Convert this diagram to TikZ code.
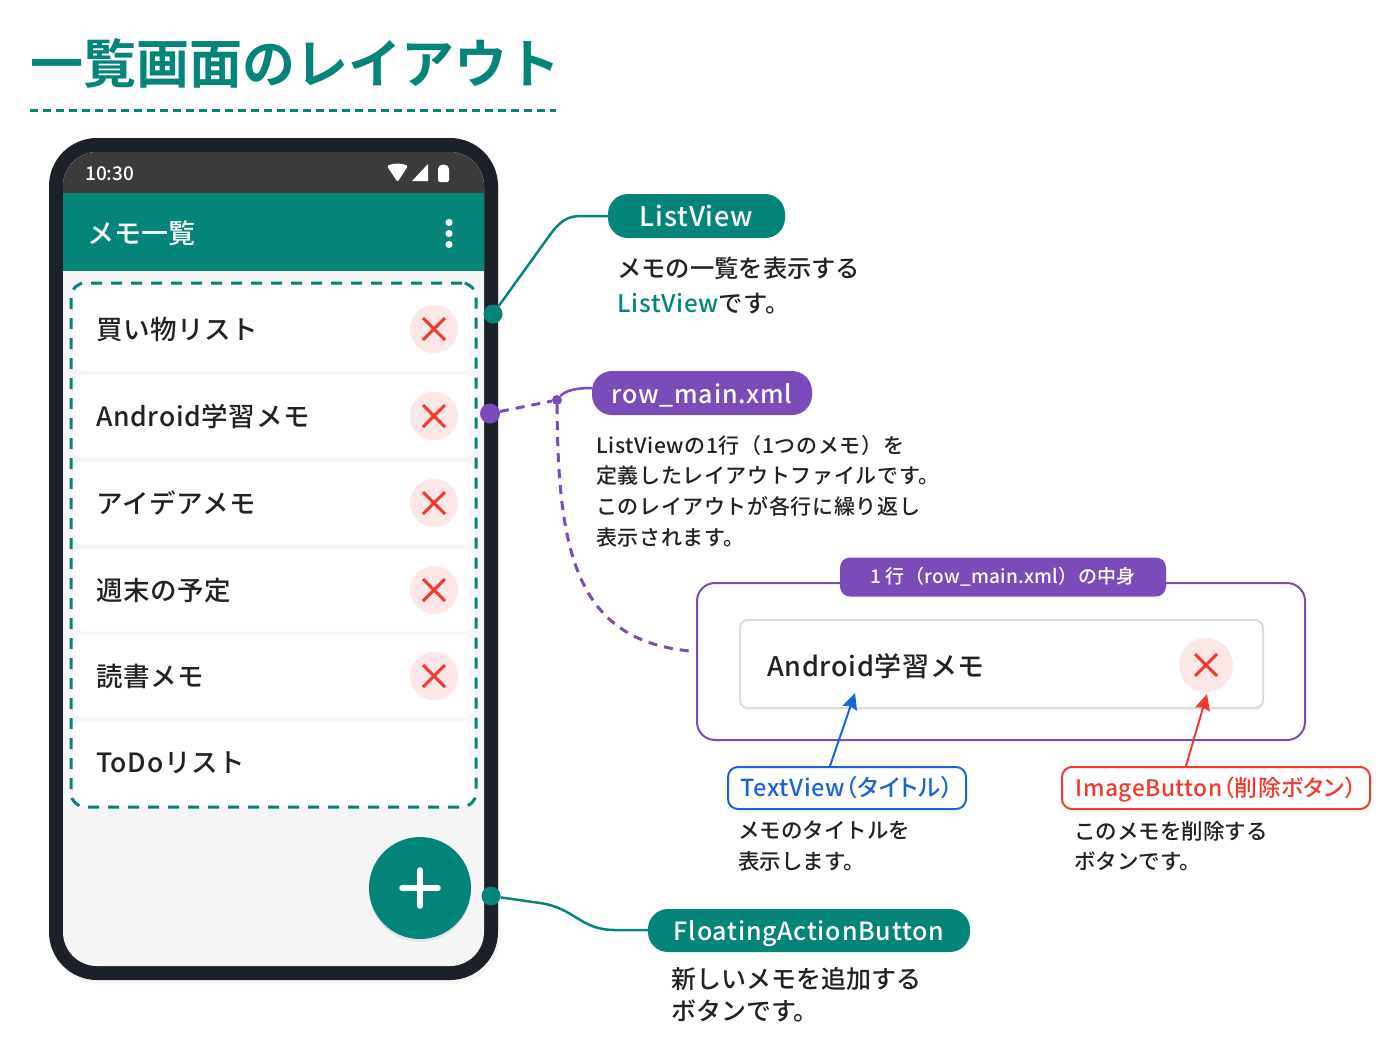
\documentclass[tikz,border=0pt]{standalone}
\usepackage{fontspec}
\setmainfont{Noto Sans CJK JP Medium}[BoldFont={Noto Sans CJK JP Bold}]
\usetikzlibrary{calc,shapes,arrows.meta,positioning,shadows}
\definecolor{tealc}{HTML}{05847A}
\definecolor{purplec}{HTML}{7A4BB9}
\definecolor{bluec}{HTML}{1B64D8}
\definecolor{redc}{HTML}{F2392B}
\definecolor{darkc}{HTML}{1B2029}
\definecolor{statusc}{HTML}{3B3B3B}
\definecolor{listc}{HTML}{F5F5F5}
\definecolor{pinkc}{HTML}{FCE6E6}
\definecolor{inkc}{HTML}{222222}
\newcommand{\fs}[1]{\fontsize{#1}{#1}\selectfont}

\begin{document}
\begin{tikzpicture}[
  x=1pt, y=-1pt,
  pill/.style={rectangle, rounded corners=20, fill=#1, text=white, inner sep=0pt, minimum height=44, text height=20, text depth=0, font=\fs{25}\addfontfeature{LetterSpace=3}},
  descr/.style={anchor=north west, align=left, inner sep=0pt, text=inkc},
  rowcard/.style={rectangle, rounded corners=10, fill=white, minimum width=402, inner sep=0pt},
  rowtext/.style={anchor=west, inner sep=0pt, text=inkc, font=\fs{26.5}\addfontfeature{LetterSpace=2.5}},
  del/.style={circle, fill=pinkc, minimum size=#1, inner sep=0pt, path picture={
    \draw[redc, line width=3] ($(path picture bounding box.center)+(-11,-11)$) -- ($(path picture bounding box.center)+(11,11)$);
    \draw[redc, line width=3] ($(path picture bounding box.center)+(-11,11)$) -- ($(path picture bounding box.center)+(11,-11)$);}},
  anchordot/.style={circle, fill=#1, minimum size=19, inner sep=0pt},
  tag/.style={rectangle, rounded corners=10, draw=#1, line width=2, fill=white, text=#1, minimum height=42, inner sep=0pt, text height=17, text depth=0},
  arrow/.style={-{Stealth[length=16pt,width=15pt,inset=2pt]}, line width=2}
]
  \useasboundingbox (0,0) rectangle (1400,1050);

  % title
  \node[anchor=west, inner sep=0pt, text=tealc, font=\fs{53}\bfseries] (title) at (30,63.5) {一覧画面のレイアウト};
  \coordinate (ruleL) at (30,110);
  \coordinate (ruleR) at (556,110);
  \draw[tealc, line width=3, dash pattern=on 8pt off 5pt] (ruleL) -- (ruleR);

  % phone
  \node[rectangle, rounded corners=48, fill=darkc, minimum width=449, minimum height=842, drop shadow={shadow xshift=2pt, shadow yshift=-4pt, opacity=.08}] (phone) at (273.5,559) {};
  \node[rectangle, rounded corners=34, fill=listc, minimum width=421, minimum height=814] (screen) at (273.5,559) {};
  \begin{scope}
    \clip[rounded corners=34] (63,152) rectangle (484,966);
    \node[rectangle, fill=statusc, minimum width=421, minimum height=42, inner sep=0pt] (status) at (273.5,173) {};
  \end{scope}
  \node[rectangle, fill=tealc, minimum width=421, minimum height=78, inner sep=0pt] (appbar) at (273.5,232) {};

  \node[anchor=west, inner sep=0pt, text=white, font=\fs{19}] (clock) at (85,173.5) {10:30};
  \fill[white, rounded corners=1.5] (387,166) .. controls (393,163) and (402,163) .. (408,166) -- (397.5,182) -- cycle;
  \fill[white] (412,181) -- (428,164) -- (428,181) -- cycle;
  \fill[white, rounded corners=2] (438,167) -- (441,164.5) -- (446,164.5) -- (449,167) -- (449,182) -- (438,182) -- cycle;

  \node[anchor=west, inner sep=0pt, text=white, font=\fs{27}] (apptitle) at (87,233) {メモ一覧};
  \fill[white] (449,222.5) circle (3.6);
  \fill[white] (449,233.5) circle (3.6);
  \fill[white] (449,244.5) circle (3.6);

  % list rows
  \node[rowcard, minimum height=86] (row1) at (273.5,328) {};
  \node[rowcard, minimum height=83] (row2) at (273.5,416) {};
  \node[rowcard, minimum height=83] (row3) at (273.5,503) {};
  \node[rowcard, minimum height=83] (row4) at (273.5,590) {};
  \node[rowcard, minimum height=83] (row5) at (273.5,676) {};
  \node[rowcard, minimum height=85] (row6) at (273.5,763) {};

  \node[rowtext] (text1) at (96,329) {買い物リスト};
  \node[rowtext] (text2) at (96,416) {Android学習メモ};
  \node[rowtext] (text3) at (96,503) {アイデアメモ};
  \node[rowtext] (text4) at (96,590) {週末の予定};
  \node[rowtext] (text5) at (96,676) {読書メモ};
  \node[rowtext] (text6) at (96,763) {ToDoリスト};

  \node[del=48] (del1) at (434,329) {};
  \node[del=48] (del2) at (434,416) {};
  \node[del=48] (del3) at (434,503) {};
  \node[del=48] (del4) at (434,590) {};
  \node[del=48] (del5) at (434,676) {};

  \node[rectangle, rounded corners=14, draw=tealc, line width=3, dash pattern=on 11pt off 9pt, minimum width=405, minimum height=524] (listbox) at (273.5,545) {};

  % fab
  \node[circle, fill=tealc, minimum size=102, inner sep=0pt, drop shadow={shadow xshift=0pt, shadow yshift=-3pt, opacity=.12}, path picture={
    \draw[white, line width=5.5, line cap=round] ($(path picture bounding box.center)+(-18,0)$) -- ($(path picture bounding box.center)+(18,0)$);
    \draw[white, line width=5.5, line cap=round] ($(path picture bounding box.center)+(0,-18)$) -- ($(path picture bounding box.center)+(0,18)$);}] (fab) at (420,888) {};

  % ListView callout
  \node[pill=tealc, minimum width=177, text height=21, font=\fs{27}\addfontfeature{LetterSpace=3}] (listpill) at (696.5,216) {ListView};
  \node[anchordot=tealc] (listdot) at (493,314) {};
  \draw[tealc, line width=2.5] (listdot) -- (552,232) .. controls (562,220) and (568,216) .. (582,216) -- (listpill);
  \node[descr, font=\fontsize{24.3}{35}\selectfont] (listdesc) at (617,257) {メモの一覧を表示する\\{\color{tealc}\addfontfeature{LetterSpace=3}ListView}です。};

  % row_main callout
  \node[pill=purplec, minimum width=220] (rowpill) at (702,393) {row\_main.xml};
  \node[anchordot=purplec, minimum size=20] (rowdot) at (490,413.5) {};
  \node[circle, fill=purplec, minimum size=10, inner sep=0pt] (rowknot) at (557,400) {};
  \coordinate (rowend) at (690,651);
  \draw[purplec, line width=3, dash pattern=on 9pt off 7pt] (rowdot) -- (rowknot);
  \draw[purplec, line width=2.5] (rowknot) .. controls (564,392) and (572,388) .. (592,388);
  \draw[purplec, line width=3, dash pattern=on 9pt off 7pt] (rowknot) .. controls (558,550) and (575,640) .. (rowend);
  \node[descr, font=\fontsize{21}{30.7}\selectfont\addfontfeature{LetterSpace=3}] (rowdesc) at (596,435) {ListViewの1行（1つのメモ）を\\定義したレイアウトファイルです。\\このレイアウトが各行に繰り返し\\表示されます。};

  % row detail panel
  \node[rectangle, rounded corners=18, draw=purplec, line width=2, minimum width=608, minimum height=157] (panel) at (1001,661.5) {};
  \node[rectangle, rounded corners=10, fill=purplec, text=white, minimum width=326, minimum height=39, inner sep=0pt, font=\fs{19}\addfontfeature{LetterSpace=1.5}] (paneltab) at (1003,577) {1 行（row\_main.xml）の中身};
  \node[rectangle, rounded corners=8, draw=black!14, line width=2, fill=white, minimum width=523, minimum height=88, drop shadow={shadow xshift=1pt, shadow yshift=-2pt, opacity=.08}] (card) at (1001.5,664) {};
  \node[anchor=west, inner sep=0pt, text=inkc, font=\fs{27}\addfontfeature{LetterSpace=2.5}] (cardtext) at (767,666) {Android学習メモ};
  \node[del=54] (carddel) at (1206,665) {};

  % widget tags
  \node[tag=bluec, minimum width=238, font=\fs{23.5}\addfontfeature{RawFeature=+palt,LetterSpace=2.5}] (texttag) at (847,788) {TextView（タイトル）};
  \node[tag=redc, minimum width=308, font=\fs{22.8}\addfontfeature{RawFeature=+palt,LetterSpace=2}] (imgtag) at (1216,788) {ImageButton（削除ボタン）};
  \coordinate (texttip) at (855,693);
  \coordinate (imgtip) at (1207,694);
  \draw[arrow, bluec] (texttag.north -| 830,0) -- (texttip);
  \draw[arrow, redc] (imgtag.north -| 1186,0) -- (imgtip);
  \node[descr, font=\fontsize{21.5}{30.5}\selectfont] (textdesc) at (738,821) {メモのタイトルを\\表示します。};
  \node[descr, font=\fontsize{21.5}{30.5}\selectfont] (imgdesc) at (1074,821) {このメモを削除する\\ボタンです。};

  % fab callout
  \node[pill=tealc, minimum width=322, minimum height=43] (fabpill) at (809,930.5) {FloatingActionButton};
  \node[anchordot=tealc] (fabdot) at (491,896) {};
  \draw[tealc, line width=2.5] (fabdot) -- (540,903) .. controls (575,908) and (580,930) .. (615,930) -- (fabpill);
  \node[descr, font=\fontsize{25}{32}\selectfont] (fabdesc) at (671,967) {新しいメモを追加する\\ボタンです。};
\end{tikzpicture}
\end{document}
